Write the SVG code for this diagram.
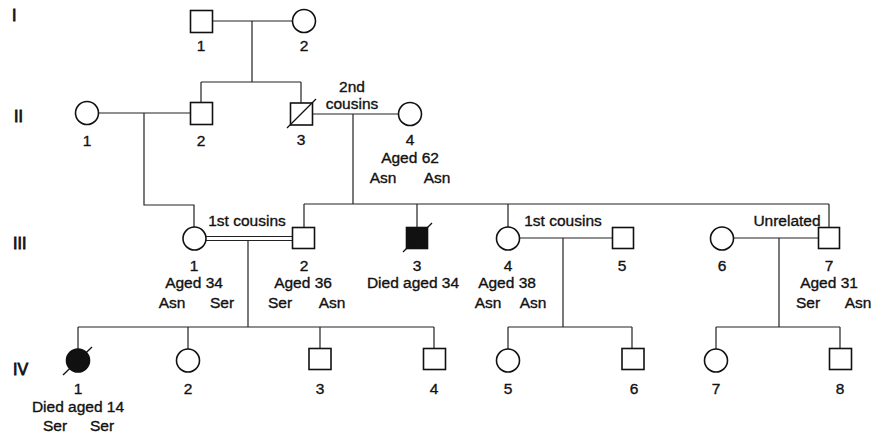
<svg xmlns="http://www.w3.org/2000/svg" width="884" height="434" viewBox="0 0 884 434">
<style>
text{font-family:"Liberation Sans",Arial,sans-serif;font-size:15.5px;fill:#111;stroke:#111;stroke-width:0.35;text-anchor:middle}
.gen{font-size:16px;text-anchor:start;stroke-width:0.8}
.n{fill:#fff;stroke:#111;stroke-width:1.6}
.a{fill:#111;stroke:#111;stroke-width:1.6}
.c{fill:none;stroke:#222;stroke-width:1.2}
.s{stroke:#111;stroke-width:1.3}
</style>
<rect width="884" height="434" fill="#fff"/>
<g id="generations">
<text class="gen" x="12" y="21">I</text>
<text class="gen" x="14" y="122">II</text>
<text class="gen" x="13" y="249">III</text>
<text class="gen" x="13" y="375">IV</text>
</g>
<g id="connectors">
<path class="c" d="M212,21H293M252,21V82M201,82H301M201,82V103M301,82V103"/>
<path class="c" d="M98,113H190M144,113V205H194V227"/>
<path class="c" d="M312,114H398M353,114V204M304,204H829M304,204V227M417,204V227M508,204V227M829,204V227"/>
<path class="c" d="M206,236.5H292M206,240.5H292M248,240.5V327M78,327H434M78,327V349M188,327V349M320,327V348M434,327V348"/>
<path class="c" d="M519,238H612M563,238V327M508,327H632M508,327V349M632,327V348"/>
<path class="c" d="M734,238H818M779,238V327M716,327H840M716,327V349M840,327V348"/>
</g>
<g id="I-1"><rect class="n" x="190.5" y="10.5" width="22" height="22"/><text x="201" y="51">1</text></g>
<g id="I-2"><circle class="n" cx="304" cy="21" r="11.5"/><text x="304" y="51">2</text></g>
<g id="II-1"><circle class="n" cx="87" cy="113" r="11.5"/><text x="87" y="146">1</text></g>
<g id="II-2"><rect class="n" x="190.5" y="102.5" width="22" height="22"/><text x="201" y="146">2</text></g>
<g id="II-3"><rect class="n" x="290.5" y="103" width="22" height="22"/><line class="s" x1="287" y1="128" x2="316" y2="99"/><text x="301" y="145">3</text></g>
<g id="II-4"><circle class="n" cx="410" cy="114" r="11.5"/><text x="410" y="145">4</text><text x="410" y="163">Aged 62</text><text x="383" y="183">Asn</text><text x="437" y="183">Asn</text></g>
<g id="label-2nd"><text x="352" y="92">2nd</text><text x="352" y="109">cousins</text></g>
<g id="III-1"><circle class="n" cx="194.5" cy="238.5" r="11.5"/><text x="194" y="271">1</text><text x="194" y="288">Aged 34</text><text x="172" y="308">Asn</text><text x="222" y="308">Ser</text></g>
<g id="III-2"><rect class="n" x="292.5" y="227.5" width="22" height="21"/><text x="304" y="271">2</text><text x="303" y="288">Aged 36</text><text x="280" y="308">Ser</text><text x="332" y="308">Asn</text></g>
<g id="label-1st-a"><text x="247" y="226">1st cousins</text></g>
<g id="III-3"><rect class="a" x="406.5" y="227.5" width="21" height="21"/><line class="s" x1="403" y1="252" x2="432" y2="223"/><text x="417" y="271">3</text><text x="413" y="288">Died aged 34</text></g>
<g id="III-4"><circle class="n" cx="508" cy="238.5" r="11.5"/><text x="508" y="271">4</text><text x="507" y="288">Aged 38</text><text x="488" y="308">Asn</text><text x="533" y="308">Asn</text></g>
<g id="III-5"><rect class="n" x="612.5" y="227.5" width="21" height="21"/><text x="622" y="271">5</text></g>
<g id="label-1st-b"><text x="563" y="226">1st cousins</text></g>
<g id="III-6"><circle class="n" cx="722" cy="238.5" r="11.5"/><text x="722" y="271">6</text></g>
<g id="III-7"><rect class="n" x="818.5" y="227.5" width="21" height="21"/><text x="829" y="271">7</text><text x="829" y="288">Aged 31</text><text x="808" y="308">Ser</text><text x="858" y="308">Asn</text></g>
<g id="label-unrelated"><text x="787" y="226">Unrelated</text></g>
<g id="IV-1"><circle class="a" cx="78" cy="360.5" r="11.5"/><line class="s" x1="63" y1="375" x2="92" y2="347"/><text x="78" y="394">1</text><text x="78" y="412">Died aged 14</text><text x="55" y="431">Ser</text><text x="102" y="431">Ser</text></g>
<g id="IV-2"><circle class="n" cx="188" cy="360.5" r="11.5"/><text x="188" y="394">2</text></g>
<g id="IV-3"><rect class="n" x="309" y="348.5" width="22" height="21"/><text x="320" y="394">3</text></g>
<g id="IV-4"><rect class="n" x="423.5" y="348.5" width="22" height="21"/><text x="434" y="394">4</text></g>
<g id="IV-5"><circle class="n" cx="508" cy="360.5" r="11.5"/><text x="508" y="394">5</text></g>
<g id="IV-6"><rect class="n" x="622" y="348.5" width="22" height="21"/><text x="634" y="394">6</text></g>
<g id="IV-7"><circle class="n" cx="716" cy="360.5" r="11.5"/><text x="716" y="394">7</text></g>
<g id="IV-8"><rect class="n" x="829.5" y="348.5" width="22" height="21"/><text x="840" y="394">8</text></g>
</svg>
